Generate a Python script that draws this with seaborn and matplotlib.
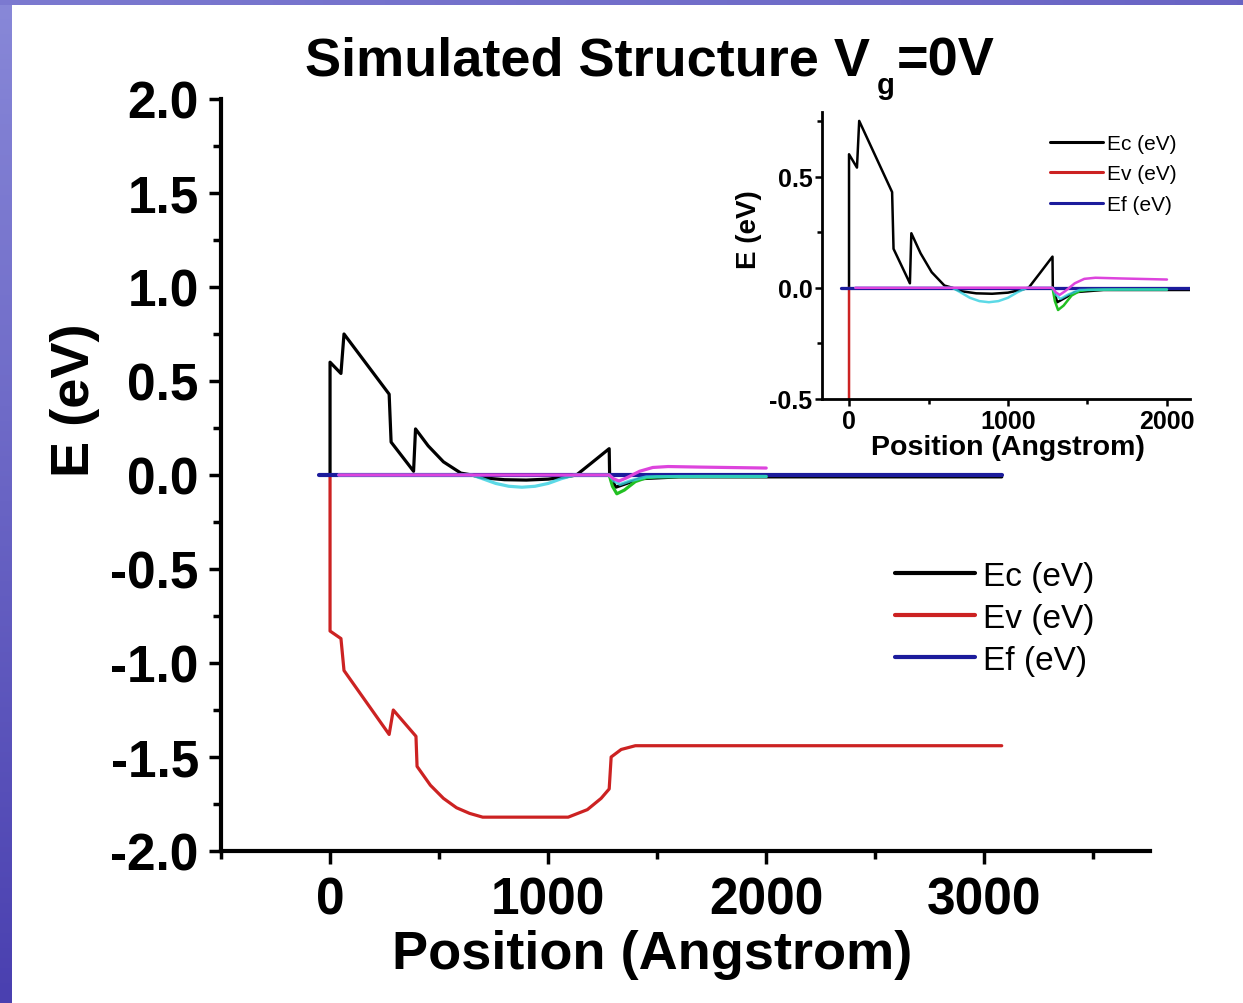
import numpy as np
import pandas as pd
import matplotlib
matplotlib.use('Agg')
import matplotlib.pyplot as plt
import seaborn as sns
from matplotlib.lines import Line2D
from matplotlib.ticker import MultipleLocator
from matplotlib.colors import LinearSegmentedColormap

# band edges (position in Angstrom, energy in eV)
ec_x = [0, 0, 50, 64, 271, 280, 383, 392, 450, 520, 600, 650, 700, 800, 900, 1000, 1080, 1130,
        1200, 1280, 1282, 1310, 1360, 1420, 1600, 2000, 3080]
ec_y = [0, 0.60, 0.54, 0.75, 0.43, 0.175, 0.02, 0.245, 0.155, 0.07, 0.01, 0.0, -0.015, -0.025,
        -0.027, -0.022, -0.01, 0.0, 0.065, 0.14, 0.0, -0.065, -0.045, -0.02, -0.01, -0.01, -0.01]

ev_x = [0, 0, 50, 64, 271, 290, 394, 399, 460, 520, 580, 640, 700, 800, 900, 1000, 1092,
        1180, 1243, 1280, 1289, 1335, 1400, 1500, 3080]
ev_y = [0, -0.83, -0.87, -1.04, -1.38, -1.25, -1.39, -1.55, -1.65, -1.72, -1.77, -1.80, -1.82,
        -1.82, -1.82, -1.82, -1.82, -1.78, -1.72, -1.67, -1.50, -1.46, -1.44, -1.44, -1.44]

ef_x = [-50, 3080]
ef_y = [0, 0]

green_x = [1280, 1295, 1315, 1350, 1400, 1450, 1500, 1700, 2000]
green_y = [0, -0.06, -0.10, -0.08, -0.035, -0.015, -0.01, -0.008, -0.008]

cyan_x = [40, 650, 700, 760, 820, 880, 940, 1000, 1060, 1120, 1280, 1300, 1330, 1380, 1450, 1600, 2000]
cyan_y = [0, 0, -0.02, -0.045, -0.06, -0.065, -0.06, -0.045, -0.02, 0, 0, -0.03, -0.05, -0.03,
          -0.01, -0.008, -0.008]

mag_x = [40, 700, 1100, 1280, 1300, 1325, 1360, 1420, 1480, 1550, 1700, 2000]
mag_y = [0, 0, 0, 0, -0.02, -0.032, -0.015, 0.02, 0.04, 0.045, 0.042, 0.037]

legend_labels = ['Ec (eV)', 'Ev (eV)', 'Ef (eV)']
c_ec, c_ev, c_ef = 'black', '#cc2222', '#1c1c9c'
c_green, c_cyan, c_mag = '#22c022', '#33d0e0', '#dd44dd'

sns.set_style('ticks')
plt.rcParams['font.family'] = ['Liberation Sans', 'DejaVu Sans']
plt.rcParams.update({'text.color': 'black', 'axes.labelcolor': 'black', 'xtick.color': 'black',
                     'ytick.color': 'black', 'axes.edgecolor': 'black'})


def draw_bands(ax, lw):
    # estimator=None / sort=False so the vertical steps stay in order
    for xs, ys, col, w in [(ec_x, ec_y, c_ec, lw), (ev_x, ev_y, c_ev, lw), (ef_x, ef_y, c_ef, lw * 1.3),
                           (green_x, green_y, c_green, lw), (cyan_x, cyan_y, c_cyan, lw),
                           (mag_x, mag_y, c_mag, lw)]:
        d = pd.DataFrame({'x': xs, 'y': ys})
        sns.lineplot(data=d, x='x', y='y', ax=ax, color=col, lw=w, sort=False, estimator=None,
                     alpha=0.8 if col == c_cyan else 1)
    ax.set_xlabel('')
    ax.set_ylabel('')


fig = plt.figure(figsize=(12.43, 10.04), dpi=100)

# blue slide background strips
cmap = LinearSegmentedColormap.from_list('bg', ['#8888d8', '#4a40b0'])
bl = fig.add_axes([0, 0, 12 / 1243, 1])
bl.imshow(np.linspace(0, 1, 200).reshape(-1, 1), aspect='auto', cmap=cmap)
bl.axis('off')
bt = fig.add_axes([0, 1 - 6 / 1004, 1, 6 / 1004])
bt.imshow(np.linspace(0.2, 0.5, 200).reshape(1, -1), aspect='auto', cmap=cmap, vmin=0, vmax=1)
bt.axis('off')

# main axes
ax = fig.add_axes([0.1778, 0.1514, 0.7474, 0.749])
draw_bands(ax, 2.3)
ax.set_xlim(-500, 3760)
ax.set_ylim(-2, 2)
ax.xaxis.set_major_locator(MultipleLocator(1000))
ax.xaxis.set_minor_locator(MultipleLocator(500))
ax.yaxis.set_major_locator(MultipleLocator(0.5))
ax.yaxis.set_minor_locator(MultipleLocator(0.25))
ax.yaxis.set_major_formatter(plt.FormatStrFormatter('%.1f'))
sns.despine(ax=ax)
for s in ['left', 'bottom']:
    ax.spines[s].set_linewidth(3)
ax.tick_params(which='major', direction='out', length=9, width=2.5, labelsize=37, pad=7)
ax.tick_params(axis='x', which='major', pad=9)
ax.tick_params(which='minor', direction='out', length=6, width=2.5)
for t in ax.get_xticklabels() + ax.get_yticklabels():
    t.set_fontweight('bold')
ax.set_xlabel('Position (Angstrom)', fontsize=39, fontweight='bold')
ax.set_ylabel('E (eV)', fontsize=39, fontweight='bold')
ax.xaxis.set_label_coords(0.464, -0.104)
ax.yaxis.set_label_coords(-0.130, 0.601)

handles = [Line2D([], [], color=c, lw=3) for c in [c_ec, c_ev, c_ef]]
ax.legend(handles, legend_labels, loc='upper left', bbox_to_anchor=(895 / 1243, 1 - 562 / 1004),
          bbox_transform=fig.transFigure, frameon=False, fontsize=24, handlelength=2.4,
          handletextpad=0.25, labelspacing=0.33, borderpad=0, borderaxespad=0)

# title with the subscript g placed like the original
fig.text(305 / 1243, 1 - 75 / 1004, 'Simulated Structure V', fontsize=39, fontweight='bold',
         ha='left', va='baseline')
fig.text(877 / 1243, 1 - 94 / 1004, 'g', fontsize=21, fontweight='bold', ha='left', va='baseline')
fig.text(897 / 1243, 1 - 75 / 1004, '=0V', fontsize=39, fontweight='bold', ha='left', va='baseline')

# inset
ins = fig.add_axes([822 / 1243, 1 - 400 / 1004, 368 / 1243, 287 / 1004])
draw_bands(ins, 1.8)
ins.set_xlim(-170, 2145)
ins.set_ylim(-0.5, 0.79)
ins.xaxis.set_major_locator(MultipleLocator(1000))
ins.xaxis.set_minor_locator(MultipleLocator(500))
ins.yaxis.set_major_locator(MultipleLocator(0.5))
ins.yaxis.set_minor_locator(MultipleLocator(0.25))
ins.yaxis.set_major_formatter(plt.FormatStrFormatter('%.1f'))
sns.despine(ax=ins)
for s in ['left', 'bottom']:
    ins.spines[s].set_linewidth(2)
ins.tick_params(which='major', direction='out', length=5, width=1.8, labelsize=18, pad=2)
ins.tick_params(which='minor', direction='out', length=3.5, width=1.8)
for t in ins.get_xticklabels() + ins.get_yticklabels():
    t.set_fontweight('bold')
ins.set_xlabel('Position (Angstrom)', fontsize=20.5, fontweight='bold')
ins.set_ylabel('E (eV)', fontsize=20, fontweight='bold')
ins.xaxis.set_label_coords(0.505, -0.122)
ins.yaxis.set_label_coords(-0.163, 0.592)
ins_handles = [Line2D([], [], color=c, lw=2.2) for c in [c_ec, c_ev, c_ef]]
ins.legend(ins_handles, legend_labels, loc='upper left', bbox_to_anchor=(1050 / 1243, 1 - 135 / 1004),
           bbox_transform=fig.transFigure, frameon=False, fontsize=15, handlelength=2.55,
           handletextpad=0.2, labelspacing=0.55, borderpad=0, borderaxespad=0)

fig.savefig('out.png', dpi=100)
